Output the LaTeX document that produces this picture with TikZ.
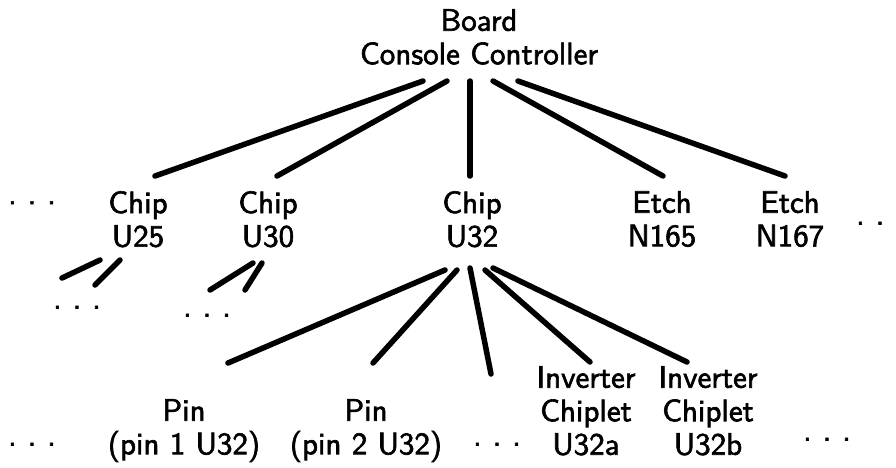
\documentclass[tikz,border=0pt]{standalone}
\usepackage{fontspec}
\newfontfamily\diagfont{lmsans10-regular.otf}[FakeBold=2]
\usetikzlibrary{calc}
\begin{document}
\begin{tikzpicture}[x=1pt,y=-1pt,
  lbl/.style={font=\diagfont\fontsize{31}{33.5}\selectfont, align=center, inner sep=0pt, anchor=north},
  dotsnode/.style={font=\diagfont\fontsize{31}{33.5}\selectfont, inner sep=0pt, anchor=base},
  edge/.style={line width=5.5pt, line cap=round}]
\useasboundingbox (0,0) rectangle (896,467);

% nodes
\node[lbl] (top) at (479,9) {Board\\Console Controller};
\node[lbl] (u25) at (138,191) {Chip\\U25};
\node[lbl] (u30) at (268,191) {Chip\\U30};
\node[lbl] (u32) at (472,191) {Chip\\U32};
\node[lbl] (n165) at (662,191) {Etch\\N165};
\node[lbl] (n167) at (790,191) {Etch\\N167};
\node[lbl] (pa) at (184,399) {Pin\\(pin 1 U32)};
\node[lbl] (pb) at (366,399) {Pin\\(pin 2 U32)};
\node[lbl] (ia) at (586,366) {Inverter\\Chiplet\\U32a};
\node[lbl] (ib) at (708,366) {Inverter\\Chiplet\\U32b};

% ellipses
\node[dotsnode] (dl) at (32,204) {.\kern11pt.\kern11pt.};
\node[dotsnode] (dr) at (880,224.5) {.\kern11pt.\kern11pt.};
\node[dotsnode] (d25) at (77,308.5) {.\kern11pt.\kern11pt.};
\node[dotsnode] (d30) at (207,316.5) {.\kern11pt.\kern11pt.};
\node[dotsnode] (dbl) at (32,445.5) {.\kern11pt.\kern11pt.};
\node[dotsnode] (dbm) at (497,445.5) {.\kern11pt.\kern11pt.};
\node[dotsnode] (dbr) at (827,440.5) {.\kern11pt.\kern11pt.};

% free ends
\coordinate (e25a) at (62,278);
\coordinate (e25b) at (95,285);
\coordinate (e30a) at (210,290);
\coordinate (e30b) at (245,290);
\coordinate (e32c) at (491,374);

% top level edges
\draw[edge] ([shift={(-56,72)}]top.north) -- ([shift={(17,-15)}]u25.north);
\draw[edge] ([shift={(-32,72)}]top.north) -- ([shift={(9,-15)}]u30.north);
\draw[edge] ([shift={(-9,72)}]top.north) -- ([shift={(-2,-15)}]u32.north);
\draw[edge] ([shift={(14,72)}]top.north) -- ([shift={(1,-15)}]n165.north);
\draw[edge] ([shift={(39,72)}]top.north) -- ([shift={(-5,-15)}]n167.north);

% U25 and U30 sub edges
\draw[edge] ([shift={(-38,69)}]u25.north) -- (e25a);
\draw[edge] ([shift={(-18,69)}]u25.north) -- (e25b);
\draw[edge] ([shift={(-15,72)}]u30.north) -- (e30a);
\draw[edge] ([shift={(-6,72)}]u30.north) -- (e30b);

% U32 sub edges
\draw[edge] ([shift={(-27,79)}]u32.north) -- ([shift={(44,-36)}]pa.north);
\draw[edge] ([shift={(-15,79)}]u32.north) -- ([shift={(7,-36)}]pb.north);
\draw[edge] ([shift={(-2,77)}]u32.north) -- (e32c);
\draw[edge] ([shift={(13,79)}]u32.north) -- ([shift={(4,-4)}]ia.north);
\draw[edge] ([shift={(21,77)}]u32.north) -- ([shift={(-21,-4)}]ib.north);
\end{tikzpicture}
\end{document}
